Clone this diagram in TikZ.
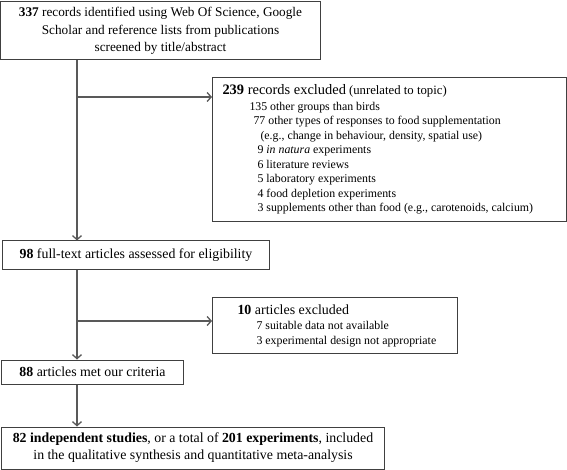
\documentclass[tikz,border=0pt]{standalone}
\usepackage{fontspec}
\setmainfont{Liberation Serif}
\usetikzlibrary{arrows.meta}

\begin{document}
\begin{tikzpicture}[x=1bp,y=-1bp,
	cbox/.style={rectangle,draw=black!75,line width=1bp,inner sep=0pt,align=center,font=\fontsize{13.9}{17}\selectfont},
	lbox/.style={cbox,anchor=north west,align=flush left,font=\fontsize{11.9}{14.6}\selectfont},
	arr/.style={draw=black!65,line width=1.3bp,-{Straight Barb[length=4bp,width=9bp]}}]
	\useasboundingbox (0,0) rectangle (567,470);
	\node[cbox,minimum width=319bp,minimum height=58bp,font=\fontsize{13.3}{17.5}\selectfont] (recs) at (160.5,31)
		{\textbf{337} records identified using Web Of Science, Google\\ Scholar and reference lists from publications\\ screened by title/abstract};
	\node[lbox,minimum height=144bp,inner xsep=10bp,text width=334bp] (excl) at (212,77)
		{{\fontsize{14.5}{15}\selectfont\textbf{239} records excluded} {\fontsize{12.8}{13}\selectfont(unrelated to topic)}\\[1bp]
		\hspace*{27bp}135 other groups than birds\\
		\hspace*{31bp}77 other types of responses to food supplementation\\
		\hspace*{38bp}(e.g., change in behaviour, density, spatial use)\\
		\hspace*{35bp}9 \textit{in natura} experiments\\
		\hspace*{35bp}6 literature reviews\\
		\hspace*{35bp}5 laboratory experiments\\
		\hspace*{35bp}4 food depletion experiments\\
		\hspace*{35bp}3 supplements other than food (e.g., carotenoids, calcium)};
	\node[cbox,minimum width=266bp,minimum height=28bp] (full) at (136,255)
		{\textbf{98} full-text articles assessed for eligibility};
	\node[lbox,minimum height=56bp,inner xsep=5bp,text width=235bp] (excl2) at (212,297)
		{\hspace*{20bp}{\fontsize{14}{15}\selectfont\textbf{10} articles excluded}\\[1bp]
		\hspace*{39bp}7 suitable data not available\\
		\hspace*{39bp}3 experimental design not appropriate};
	\node[cbox,minimum width=181bp,minimum height=24bp] (crit) at (92.5,372)
		{\textbf{88} articles met our criteria};
	\node[cbox,minimum width=382bp,minimum height=42bp] (incl) at (193,448)
		{\textbf{82 independent studies}, or a total of \textbf{201 experiments}, included\\ in the qualitative synthesis and quantitative meta-analysis};
	% main line and branches
	\coordinate (spine) at (77,0);
	\coordinate (br1) at (77,97);
	\coordinate (br2) at (77,321);
	\draw[arr] (recs.south -| spine) -- (full.north -| spine);
	\draw[arr] (br1) -- (br1 -| excl.west);
	\draw[arr] (full.south -| spine) -- (crit.north -| spine);
	\draw[arr] (br2) -- (br2 -| excl2.west);
	\draw[arr] (crit.south -| spine) -- (incl.north -| spine);
\end{tikzpicture}
\end{document}
